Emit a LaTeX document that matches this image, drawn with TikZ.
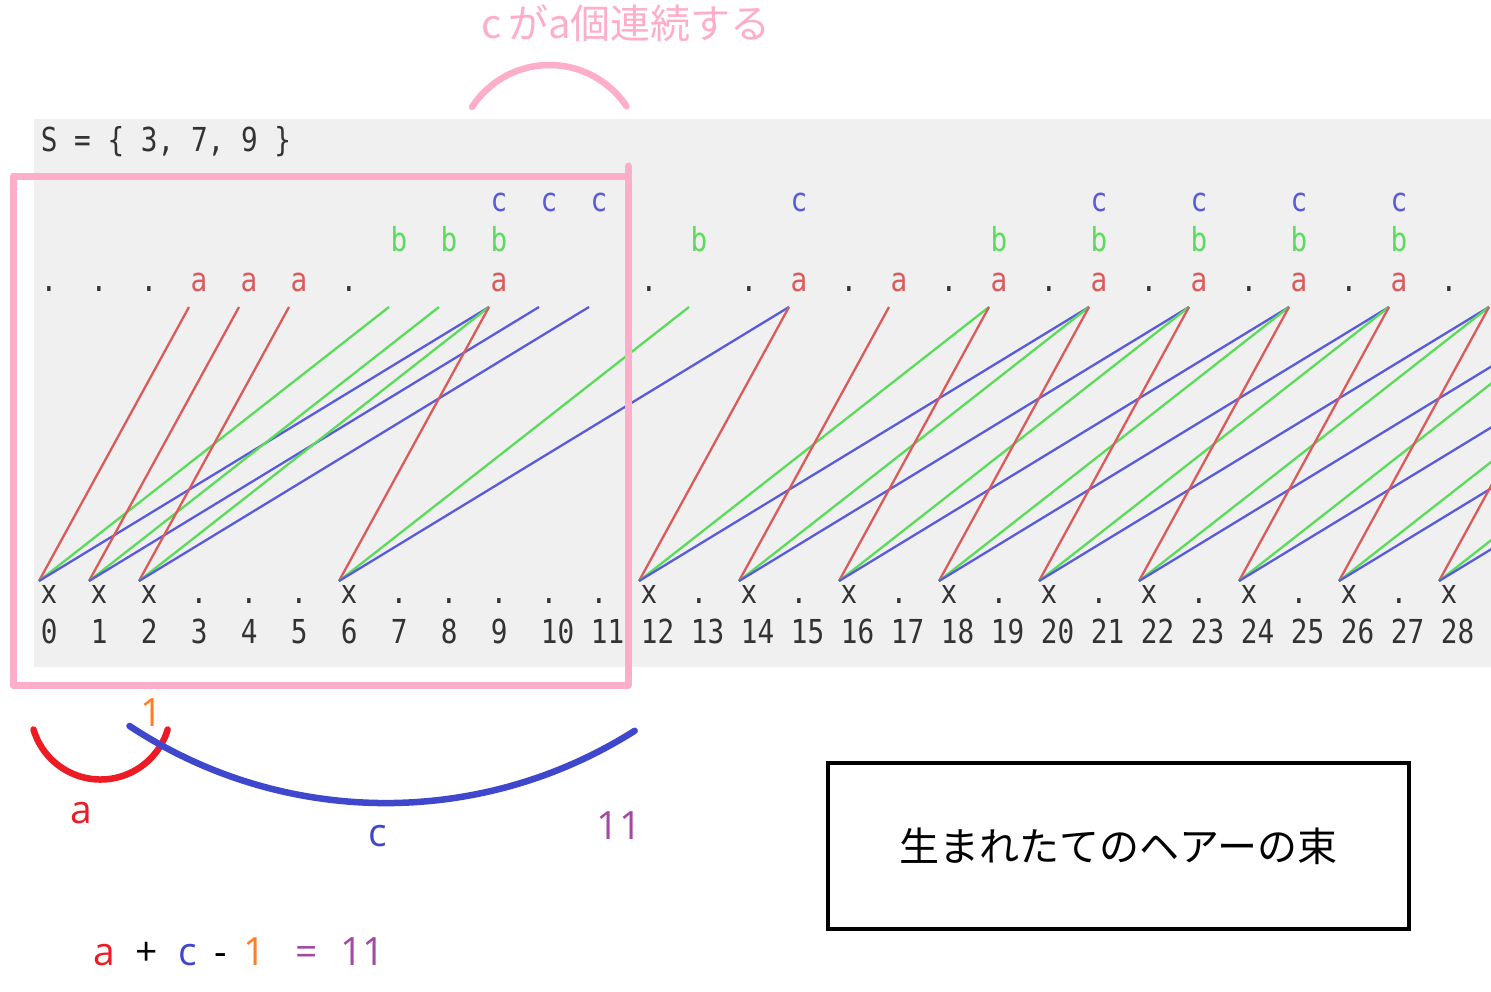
\documentclass[tikz,border=0pt]{standalone}
\usepackage{fontspec}
\newfontfamily\pix[FakeStretch=0.84]{DejaVu Sans Mono}
\newfontfamily\jp{Noto Sans CJK JP}
\newfontfamily\lab{Open Sans}
\definecolor{bgg}{RGB}{240,240,240}
\definecolor{pxred}{RGB}{220,90,90}
\definecolor{pxgreen}{RGB}{90,220,90}
\definecolor{pxblue}{RGB}{90,90,220}
\definecolor{pxdark}{RGB}{51,51,51}
\definecolor{pinkk}{RGB}{255,174,201}
\definecolor{mred}{RGB}{237,28,36}
\definecolor{mblue}{RGB}{63,72,204}
\definecolor{morange}{RGB}{255,127,39}
\definecolor{mpurple}{RGB}{163,73,164}
\begin{document}
\begin{tikzpicture}[x=1pt,y=-1pt,
  pixtext/.style={font={\pix\fontsize{33}{36}\selectfont}, text=pxdark, inner sep=0pt, anchor=base},
  pxline/.style={line width=2.3pt},
  pinkline/.style={draw=pinkk, line width=7pt, line cap=round, line join=round},
  bigarc/.style={line width=6.5pt, line cap=round},
  labtext/.style={font={\lab\fontsize{39}{44}\selectfont}, inner sep=0pt},
  eqtext/.style={font={\lab\fontsize{39}{44}\selectfont}, inner sep=0pt, anchor=base}]
\fill[white] (0,0) rectangle (1491,991);
\useasboundingbox (0,0) rectangle (1491,991);
% grey panel
\fill[bgg] (34,119) rectangle (1491,667);
\node[pixtext, anchor=base west] (sset) at (40.67,151) {S = \{ 3, 7, 9 \}};
% anchor coordinates for the hair lines
\foreach \n in {0,...,37} {
  \coordinate (s\n) at ({39+50*\n},581);
  \coordinate (t\n) at ({39+50*\n},307);
}
\begin{scope}
\clip (34,119) rectangle (1491,667);
\foreach \n [evaluate=\n as \ma using int(\n+3),
             evaluate=\n as \mb using int(\n+7),
             evaluate=\n as \mc using int(\n+9)] in {0,1,2,6,12,14,16,18,20,22,24,26,28} {
  \draw[pxline, pxred] (s\n) -- (t\ma);
  \draw[pxline, pxgreen] (s\n) -- (t\mb);
  \draw[pxline, pxblue] (s\n) -- (t\mc);
}
\end{scope}
% bottom marks
\foreach \n in {0,1,2,6,12,14,16,18,20,22,24,26,28} {
  \node[pixtext] (xm\n) at ({49+50*\n},603) {x};
  \node[pixtext] (td\n) at ({49+50*\n},291) {.};
}
\foreach \n in {3,4,5,7,8,9,10,11,13,15,17,19,21,23,25,27} {
  \node[pixtext] (bd\n) at ({49+50*\n},603) {.};
}
\foreach \n in {3,4,5,9,15,17,19,21,23,25,27} {
  \node[pixtext, text=pxred] (ma\n) at ({49+50*\n},291) {a};
}
\foreach \n in {7,8,9,13,19,21,23,25,27} {
  \node[pixtext, text=pxgreen] (mb\n) at ({49+50*\n},251) {b};
}
\foreach \n in {9,10,11,15,21,23,25,27} {
  \node[pixtext, text=pxblue] (mc\n) at ({49+50*\n},211) {c};
}
\foreach \n in {0,...,28} {
  \node[pixtext, anchor=base west] (num\n) at ({40.67+50*\n},643) {\n};
}
% pink frame
\draw[pinkline] (628,166) -- (628,685) -- (13,685) -- (13,176) -- (625,176);
% pink arc and title
\draw[bigarc, pinkk] (549.5,157.5) ++(-146.9:92.5) arc[start angle=-146.9, end angle=-33.6, radius=92.5];
\node[font={\jp\fontsize{40}{46}\selectfont}, text=pinkk, inner sep=0pt] (title) at (626,23) {c\hspace{7pt}がa個連続する};
% bottom arcs
\draw[bigarc, mred] (100.6,709.5) ++(163.4:70) arc[start angle=163.4, end angle=16.6, radius=70];
\draw[bigarc, mblue] (385.8,338.6) ++(123.5:464.5) arc[start angle=123.5, end angle=57.6, radius=464.5];
\node[labtext, text=morange] (one) at (151.5,712.5) {1};
\node[labtext, text=mred] (la) at (81,813.5) {a};
\node[labtext, text=mblue] (lc) at (377.5,836) {c};
\node[labtext, text=mpurple] (l11) at (619,826) {11};
% equation
\node[eqtext, text=mred] (ea) at (104.5,965) {a};
\node[eqtext, text=black] (eplus) at (146.5,965) {+};
\node[eqtext, text=mblue] (ec) at (187.5,965) {c};
\node[eqtext, text=black] (eminus) at (220.5,965) {-};
\node[eqtext, text=morange] (eone) at (255,965) {1};
\node[eqtext, text=mpurple] (eeq) at (307,965) {=};
\node[eqtext, text=mpurple] (e11) at (362.5,965) {11};
% box
\node[draw=black, line width=4.5pt, minimum width=581pt, minimum height=166pt, inner sep=0pt,
      font={\jp\fontsize{40}{46}\selectfont}] (box) at (1118.5,846) {生まれたてのヘアーの束};
\end{tikzpicture}
\end{document}
